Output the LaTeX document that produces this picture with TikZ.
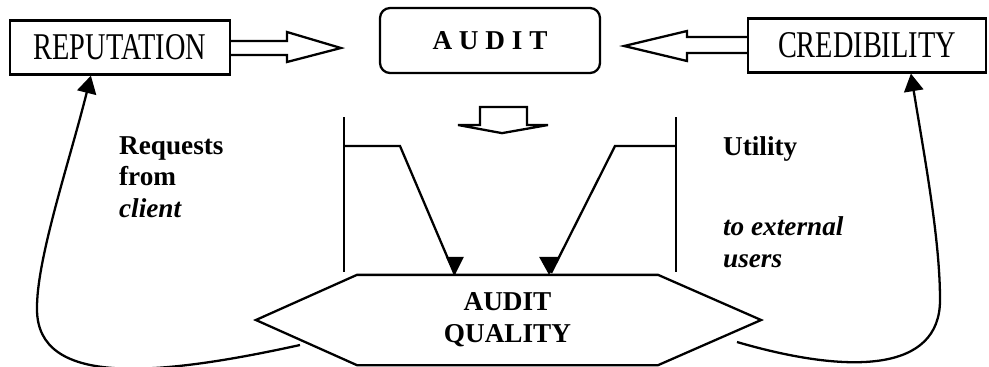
\documentclass[tikz,border=0pt]{standalone}
\usepackage{fontspec}
\setmainfont{Liberation Serif}
\newfontfamily\boxfont[FakeStretch=0.75]{Liberation Serif}
\usetikzlibrary{positioning, arrows.meta, calc}

\begin{document}
\begin{tikzpicture}[
  x=0.02cm, y=-0.02cm,
  line width=1.3pt,
  plainbox/.style={
    draw=black,
    minimum height=1.08cm,
    inner sep=0pt,
    font=\boxfont\fontsize{21.5}{24}\selectfont,
  },
  auditbox/.style={
    draw=black,
    rounded corners=0.2cm,
    minimum width=4.4cm,
    minimum height=1.3cm,
    font=\bfseries\fontsize{15.5}{18}\selectfont,
  },
  qualitybox/.style={
    minimum width=5.98cm,
    minimum height=1.76cm,
    align=center,
    inner sep=0pt,
    font=\bfseries\fontsize{15.5}{18.2}\selectfont,
  },
  note/.style={
    align=left,
    inner sep=0pt,
    anchor=base west,
    font=\bfseries\fontsize{15.5}{17.8}\selectfont,
  },
  uparrow/.style={-{Triangle[length=10pt,width=11pt]}},
]
  \useasboundingbox (0,0) rectangle (989,366);

  % boxes on top
  \node[plainbox, minimum width=4.4cm] (rep) at (120,47.5) {REPUTATION};
  \node[auditbox] (audit) at (490,40.5) {A U D I T};
  \node[plainbox, minimum width=4.76cm] (cred) at (867,45.5) {CREDIBILITY};

  % audit quality
  \node[qualitybox] (qual) at (507.5,320) {AUDIT\\QUALITY};
  \draw (qual.north west) -- (qual.north east) -- ($(qual.east)+(103,0)$)
    -- (qual.south east) -- (qual.south west) -- ($(qual.west)+(-101,0)$) -- cycle;

  % hollow arrows into audit
  \coordinate (rep-tip) at ($(audit.west)+(-38,7.5)$);
  \draw (rep.east |- 0,41) -- (287,41) -- (287,32) -- (rep-tip)
    -- (287,62) -- (287,55) -- (rep.east |- 0,55);
  \coordinate (cred-tip) at ($(audit.east)+(23,5.5)$);
  \draw (cred.west |- 0,37) -- (687,37) -- (687,31) -- (cred-tip)
    -- (687,61) -- (687,53) -- (cred.west |- 0,53);

  % hollow arrow down
  \coordinate (down-tip) at ($(audit.south)+(12,59)$);
  \draw (480,125) -- (480,107) -- (527,107) -- (527,125) -- (548,125)
    -- (down-tip) -- (458,125) -- cycle;

  % requests from client
  \coordinate (req-tip) at ($(qual.north west)+(98,0)$);
  \draw (344,117) -- (344,272);
  \draw (344,146) -- (400,146) -- (req-tip);
  \fill (req-tip) -- ++(-9,-18) -- ++(18,0) -- cycle;

  % utility to external users
  \coordinate (util-tip) at ($(qual.north east)+(-109,0)$);
  \draw (676,117) -- (676,272);
  \draw (676,146) -- (615,146) -- ($(util-tip)+(2,-2)$);
  \fill (util-tip) -- ++(-10,-18) -- ++(20,0) -- cycle;

  \node[note] (req) at (118,217) {Requests\\from\\\textit{client}};
  \node[note] (util) at (722,155) {Utility};
  \node[note, font=\bfseries\fontsize{15.5}{18.2}\selectfont] (ext) at (722,267)
    {\textit{to external}\\\textit{users}};

  % loops back to the top boxes
  \coordinate (qual-l) at (300,345);
  \coordinate (qual-r) at (737,342);
  \draw[uparrow] (qual-l) .. controls (150,378) and (38,385) .. (37,310)
    .. controls (36,260) and (70,160) .. ($(rep.south west)+(82,0)$);
  \draw[uparrow] (qual-r) .. controls (850,375) and (940,372) .. (940,300)
    .. controls (940,240) and (925,160) .. ($(cred.south west)+(164,0)$);
\end{tikzpicture}
\end{document}
